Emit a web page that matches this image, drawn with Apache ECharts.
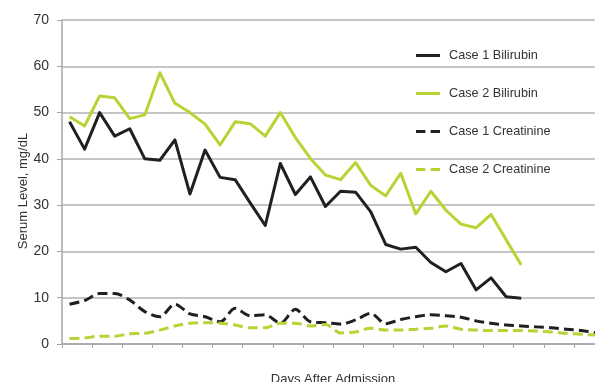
<!DOCTYPE html>
<html>
<head>
<meta charset="utf-8">
<script src="https://cdn.jsdelivr.net/npm/echarts@6/dist/echarts.min.js"></script>
<style>
  html, body { margin: 0; padding: 0; background: #fff; }
  #chart { width: 595px; height: 382px; }
</style>
</head>
<body>
<div id="chart"></div>
<script>
// Day index after admission (36 sampled days)
var days = [];
for (var d = 1; d <= 36; d++) days.push(String(d));

// Serum levels, mg/dL
var case1Bilirubin = [48.0, 42.1, 50.0, 44.9, 46.5, 40.0, 39.7, 44.1, 32.4, 41.9, 36.0, 35.5, 30.5, 25.6, 39.0, 32.3, 36.1, 29.7, 33.0, 32.8, 28.6, 21.5, 20.5, 20.9, 17.6, 15.6, 17.4, 11.7, 14.3, 10.2, 9.9];
var case2Bilirubin = [49.1, 47.1, 53.6, 53.2, 48.7, 49.5, 58.6, 52.0, 50.0, 47.5, 43.0, 48.0, 47.6, 44.9, 50.0, 44.6, 40.1, 36.5, 35.5, 39.2, 34.3, 32.0, 36.9, 28.1, 33.0, 28.9, 25.9, 25.1, 28.0, 22.5, 17.1];
var case1Creatinine = [8.6, 9.4, 10.9, 10.9, 9.5, 7.0, 5.9, 8.6, 6.5, 5.9, 4.8, 7.7, 6.1, 6.3, 4.5, 7.5, 4.8, 4.6, 4.3, 5.2, 6.6, 4.4, 5.3, 5.9, 6.3, 6.1, 5.8, 5.0, 4.5, 4.1, 3.9, 3.7, 3.5, 3.2, 2.9, 2.4];
var case2Creatinine = [1.2, 1.3, 1.7, 1.7, 2.2, 2.3, 3.0, 3.9, 4.5, 4.6, 4.5, 4.1, 3.5, 3.5, 4.5, 4.5, 3.9, 4.2, 2.4, 2.6, 3.4, 3.0, 3.0, 3.2, 3.4, 3.9, 3.2, 3.0, 2.9, 2.9, 2.9, 2.8, 2.6, 2.3, 2.1, 1.9];

var yTicks = { min: 0, max: 70, interval: 10 };

var BLACK = '#231f20';
var GREEN = '#b6d433';
var FONT = 'Liberation Sans, Arial, sans-serif';
var SOLID_ICON = 'path://M0,0 L24,0 L24,3 L0,3 Z';
var DASH_ICON = 'path://M0,0 L9,0 L9,3 L0,3 Z M14,0 L23,0 L23,3 L14,3 Z';

function lineSeries(name, data, color, dashed) {
  return {
    name: name,
    type: 'line',
    data: data,
    showSymbol: false,
    symbol: 'none',
    smooth: dashed ? 0.3 : false,
    lineStyle: {
      color: color,
      width: 3,
      type: dashed ? [10, 5] : 'solid',
      cap: 'butt',
      join: 'round'
    },
    itemStyle: { color: color },
    z: dashed ? 2 : 3
  };
}

var chart = echarts.init(document.getElementById('chart'), null, { renderer: 'canvas' });
chart.setOption({
  animation: false,
  backgroundColor: '#ffffff',
  grid: { left: 62, top: 20, bottom: 38, right: -9, containLabel: false, outerBoundsMode: 'none' },
  legend: {
    orient: 'vertical',
    left: 411,
    top: 44,
    itemWidth: 24,
    itemHeight: 10,
    itemGap: 25,
    textStyle: { fontFamily: FONT, fontSize: 12.7, color: '#333', padding: [0, 0, 0, 4] },
    data: [
      { name: 'Case 1 Bilirubin', icon: SOLID_ICON, itemStyle: { color: BLACK } },
      { name: 'Case 2 Bilirubin', icon: SOLID_ICON, itemStyle: { color: GREEN } },
      { name: 'Case 1 Creatinine', icon: DASH_ICON, itemStyle: { color: BLACK } },
      { name: 'Case 2 Creatinine', icon: DASH_ICON, itemStyle: { color: GREEN } }
    ]
  },
  // y-axis title, placed a little below the plot's vertical centre
  graphic: [{
    type: 'text',
    x: 17,
    y: 191,
    rotation: Math.PI / 2,
    style: {
      text: 'Serum Level, mg/dL',
      font: '13px ' + FONT,
      fill: '#333',
      align: 'center',
      verticalAlign: 'top'
    }
  }],
  xAxis: {
    type: 'category',
    data: days,
    boundaryGap: true,
    name: 'Days After Admission',
    nameLocation: 'middle',
    nameGap: 29,
    nameTextStyle: { fontFamily: FONT, fontSize: 13, color: '#333', verticalAlign: 'top' },
    axisLine: { lineStyle: { color: '#a6a6a6', width: 1.5 } },
    axisTick: { show: true, length: 4, lineStyle: { color: '#a6a6a6', width: 1 } },
    axisLabel: { show: false },
    splitLine: { show: false }
  },
  yAxis: {
    type: 'value',
    min: yTicks.min,
    max: yTicks.max,
    interval: yTicks.interval,
    axisLine: { show: true, lineStyle: { color: '#a6a6a6', width: 1.5 } },
    axisTick: { show: true, length: 5, lineStyle: { color: '#a6a6a6' } },
    axisLabel: { fontFamily: FONT, fontSize: 14, color: '#333', margin: 13 },
    splitLine: { show: true, lineStyle: { color: '#b3b3b3', width: 1.5 } }
  },
  series: [
    lineSeries('Case 1 Bilirubin', case1Bilirubin, BLACK, false),
    lineSeries('Case 2 Bilirubin', case2Bilirubin, GREEN, false),
    lineSeries('Case 1 Creatinine', case1Creatinine, BLACK, true),
    lineSeries('Case 2 Creatinine', case2Creatinine, GREEN, true)
  ]
});
</script>
</body>
</html>
